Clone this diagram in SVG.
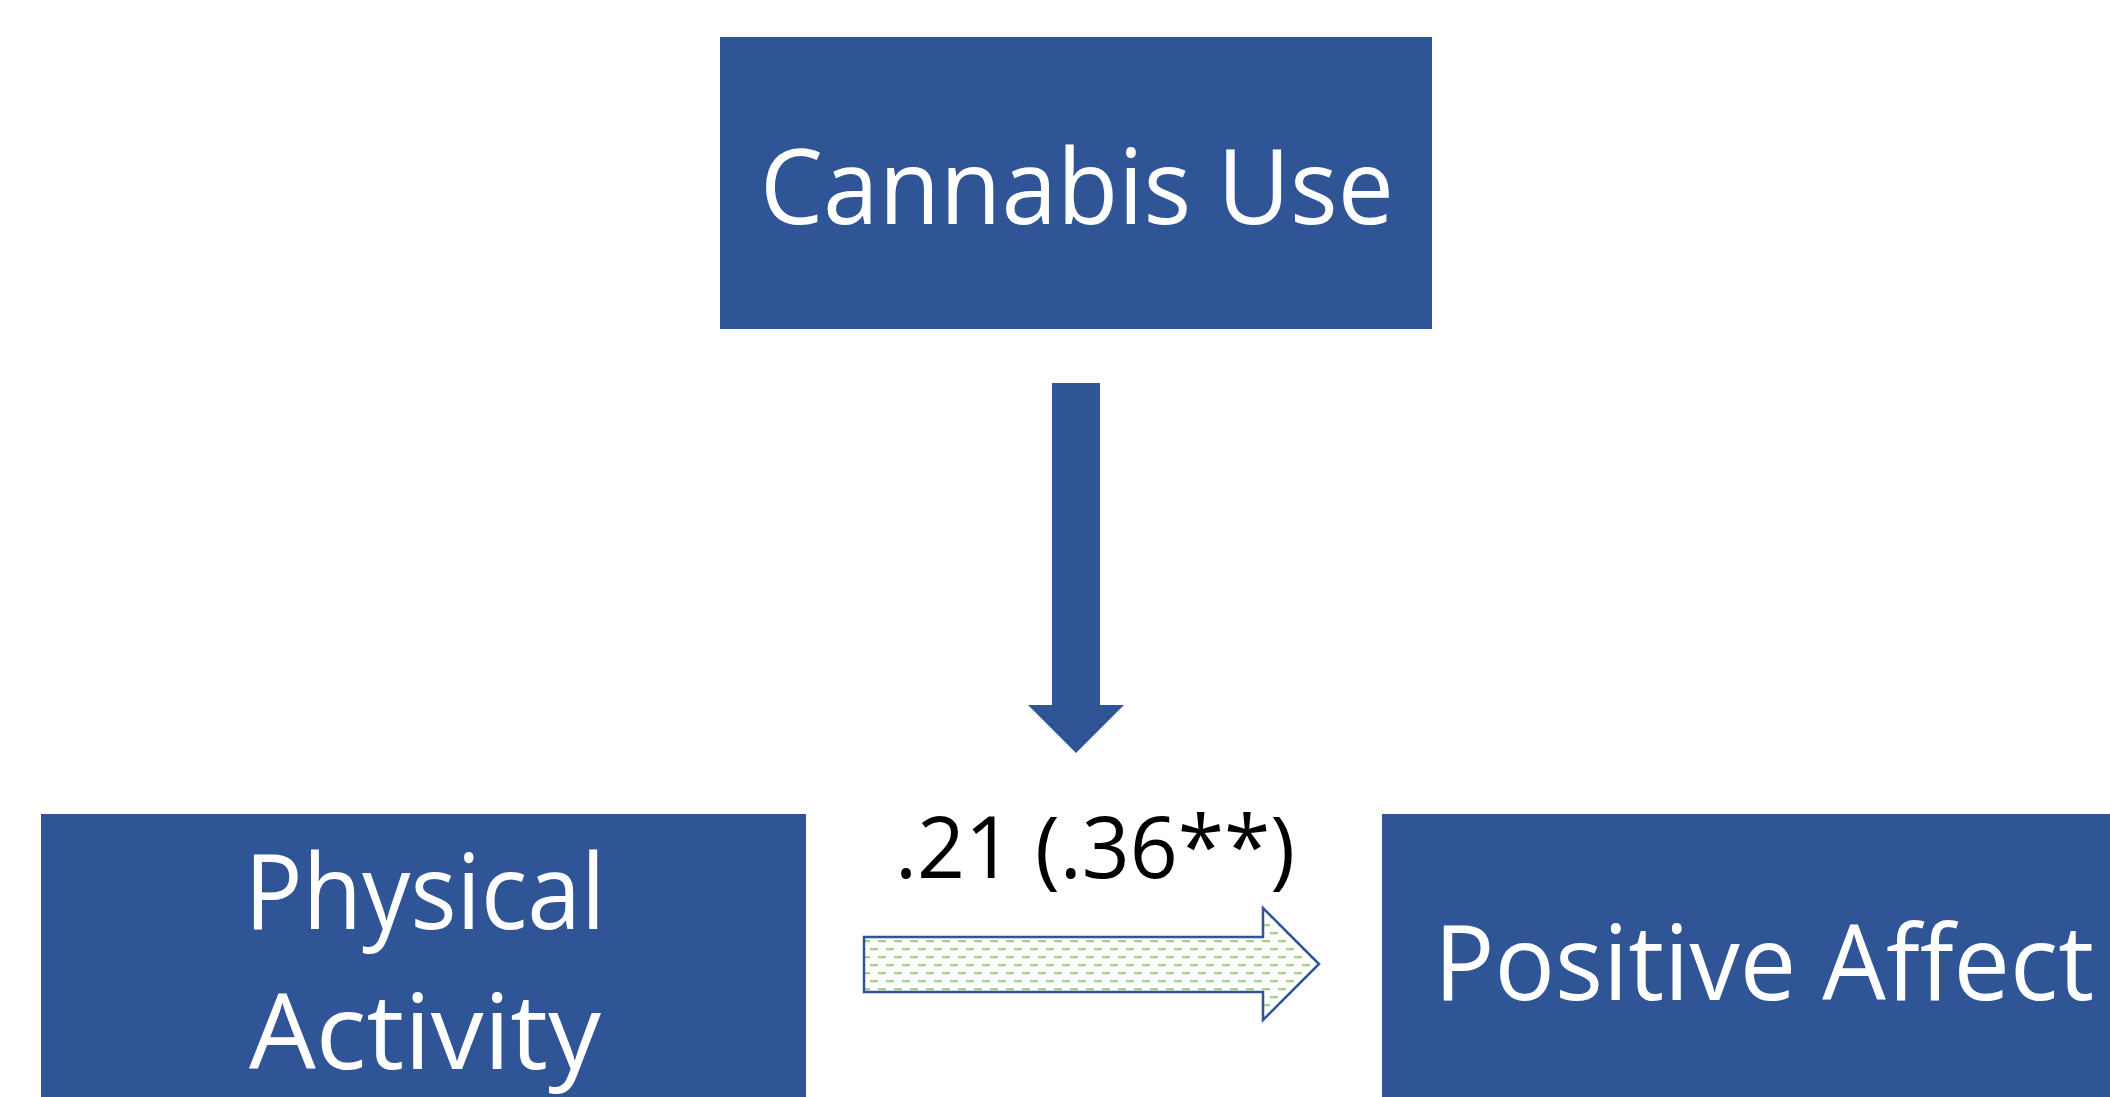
<svg xmlns="http://www.w3.org/2000/svg" width="2110" height="1097" viewBox="0 0 2110 1097">
  <style>
    .box { fill: #2F5597; }
    .lbl { fill: #FFFFFF; font-family: "Open Sans", "Noto Sans", sans-serif; font-size: 105px; text-anchor: middle; }
    .coef { fill: #000000; font-family: "Open Sans", "Noto Sans", sans-serif; font-size: 86px; text-anchor: middle; }
  </style>
  <defs>
    <pattern id="dashH" patternUnits="userSpaceOnUse" x="870" y="940.4" width="16" height="16">
      <rect x="8" y="0" width="8" height="1.4" fill="#70AD47"/>
      <rect x="0" y="8" width="8" height="1.4" fill="#70AD47"/>
    </pattern>
  </defs>
  <rect width="2110" height="1097" fill="#FFFFFF"/>

  <g id="cannabis-use">
    <rect class="box" x="720" y="37" width="712" height="292"/>
    <text class="lbl" x="1077" y="224" textLength="634" lengthAdjust="spacingAndGlyphs">Cannabis Use</text>
  </g>

  <g id="physical-activity">
    <rect class="box" x="41" y="814" width="765" height="320"/>
    <text class="lbl" x="425" y="929" textLength="361" lengthAdjust="spacingAndGlyphs">Physical</text>
    <text class="lbl" x="425" y="1069" textLength="352" lengthAdjust="spacingAndGlyphs">Activity</text>
  </g>

  <g id="positive-affect">
    <rect class="box" x="1382" y="814" width="800" height="320"/>
    <text class="lbl" x="1764" y="1000" textLength="660" lengthAdjust="spacingAndGlyphs">Positive Affect</text>
  </g>

  <g id="connectors">
    <polygon points="1052,383 1100,383 1100,705 1124,705 1076,753 1028,705 1052,705" fill="#2F5597"/>
    <polygon points="864,937 1263,937 1263,908 1319,964 1263,1020 1263,992 864,992" fill="url(#dashH)" stroke="#2F5597" stroke-width="2.5"/>
    <text class="coef" x="1095" y="878" textLength="400" lengthAdjust="spacingAndGlyphs">.21 (.36**)</text>
  </g>
</svg>
